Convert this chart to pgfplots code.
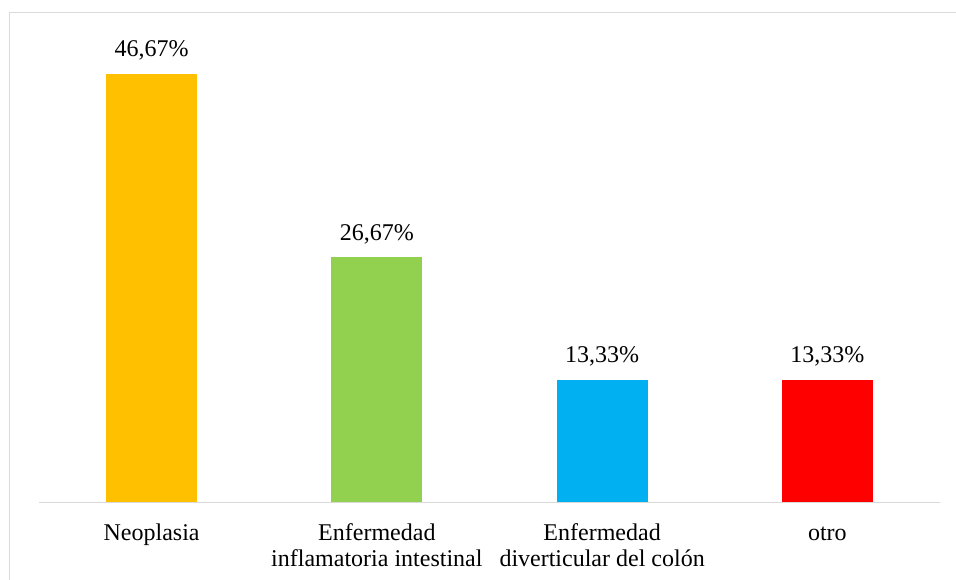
\documentclass[border=0pt]{standalone}
\usepackage{fontspec}
\setmainfont{Liberation Serif}
\usepackage{pgfplots}
\pgfplotsset{compat=1.18}
\definecolor{cOrange}{HTML}{FFC000}
\definecolor{cGreen}{HTML}{92D050}
\definecolor{cBlue}{HTML}{00B0F0}
\definecolor{cRed}{HTML}{FF0000}
\definecolor{frameGray}{HTML}{D9D9D9}
\newcommand{\lblfont}{\fontsize{18}{19.5}\selectfont}
\begin{document}
\begin{tikzpicture}
% page area and chart frame (left and top edges)
\path[use as bounding box] (0pt,0pt) rectangle (717pt,435pt);
\draw[frameGray, line width=1.4pt] (7.1pt,0pt) -- (7.1pt,425.6pt) -- (717pt,425.6pt);
\begin{axis}[
  at={(29.25pt,58.125pt)}, anchor=south west,
  scale only axis, width=675.75pt, height=344.6pt,
  xmin=-0.5, xmax=3.5, ymin=0, ymax=50,
  hide y axis,
  axis x line*=bottom,
  x axis line style={draw=frameGray, line width=1.1pt, -},
  xtick={0,1,2,3},
  xticklabels={{\strut Neoplasia},{\strut Enfermedad\\inflamatoria intestinal},{\strut Enfermedad\\diverticular del colón},{\strut otro}},
  xtick style={draw=none},
  xticklabel style={align=center, anchor=north, inner sep=0pt, yshift=-10.7pt,
    font=\lblfont},
  ybar, bar width=68.25pt, bar shift=0pt,
  clip=false,
  nodes near coords={\lblfont\pgfmathprintnumber[fixed,fixed zerofill,precision=2,use comma,assume math mode=true]{\pgfplotspointmeta}\%},
  every node near coord/.append style={anchor=base, inner sep=0pt, yshift=12.75pt, text=black},
]
\addplot[fill=cOrange, draw=none] coordinates {(0,46.67)};
\addplot[fill=cGreen, draw=none] coordinates {(1,26.67)};
\addplot[fill=cBlue, draw=none] coordinates {(2,13.33)};
\addplot[fill=cRed, draw=none] coordinates {(3,13.33)};
\end{axis}
\end{tikzpicture}
\end{document}
